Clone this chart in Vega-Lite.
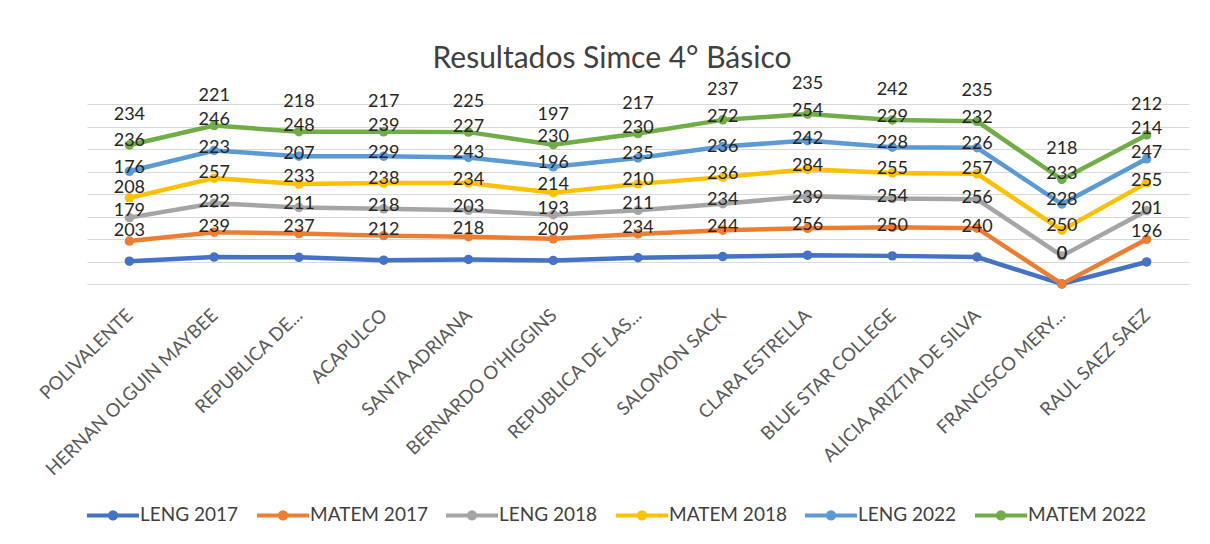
{
  "$schema": "https://vega.github.io/schema/vega-lite/v6.json",
  "autosize": "none",
  "width": 1102,
  "height": 180,
  "padding": {"left": 87, "top": 104, "right": 21, "bottom": 260},
  "background": "white",
  "config": {"font": "Lato", "view": {"stroke": null}},
  "title": {"text": "Resultados Simce 4° Básico", "fontSize": 30, "fontWeight": "normal", "color": "#404040", "anchor": "middle", "dx": -26, "offset": -23, "baseline": "alphabetic"},
  "datasets": {
    "series": [
      {"serie": "LENG 2017", "orden": 1},
      {"serie": "MATEM 2017", "orden": 2},
      {"serie": "LENG 2018", "orden": 3},
      {"serie": "MATEM 2018", "orden": 4},
      {"serie": "LENG 2022", "orden": 5},
      {"serie": "MATEM 2022", "orden": 6}
    ]
  },
  "data": {"values": [
    {"escuela": "POLIVALENTE", "serie": "LENG 2017", "valor": 203},
    {"escuela": "HERNAN OLGUIN MAYBEE", "serie": "LENG 2017", "valor": 239},
    {"escuela": "REPUBLICA DE...", "serie": "LENG 2017", "valor": 237},
    {"escuela": "ACAPULCO", "serie": "LENG 2017", "valor": 212},
    {"escuela": "SANTA ADRIANA", "serie": "LENG 2017", "valor": 218},
    {"escuela": "BERNARDO O'HIGGINS", "serie": "LENG 2017", "valor": 209},
    {"escuela": "REPUBLICA DE LAS...", "serie": "LENG 2017", "valor": 234},
    {"escuela": "SALOMON SACK", "serie": "LENG 2017", "valor": 244},
    {"escuela": "CLARA ESTRELLA", "serie": "LENG 2017", "valor": 256},
    {"escuela": "BLUE STAR  COLLEGE", "serie": "LENG 2017", "valor": 250},
    {"escuela": "ALICIA ARIZTIA DE SILVA", "serie": "LENG 2017", "valor": 240},
    {"escuela": "FRANCISCO  MERY...", "serie": "LENG 2017", "valor": 0},
    {"escuela": "RAUL SAEZ SAEZ", "serie": "LENG 2017", "valor": 196},

    {"escuela": "POLIVALENTE", "serie": "MATEM 2017", "valor": 179},
    {"escuela": "HERNAN OLGUIN MAYBEE", "serie": "MATEM 2017", "valor": 222},
    {"escuela": "REPUBLICA DE...", "serie": "MATEM 2017", "valor": 211},
    {"escuela": "ACAPULCO", "serie": "MATEM 2017", "valor": 218},
    {"escuela": "SANTA ADRIANA", "serie": "MATEM 2017", "valor": 203},
    {"escuela": "BERNARDO O'HIGGINS", "serie": "MATEM 2017", "valor": 193},
    {"escuela": "REPUBLICA DE LAS...", "serie": "MATEM 2017", "valor": 211},
    {"escuela": "SALOMON SACK", "serie": "MATEM 2017", "valor": 234},
    {"escuela": "CLARA ESTRELLA", "serie": "MATEM 2017", "valor": 239},
    {"escuela": "BLUE STAR  COLLEGE", "serie": "MATEM 2017", "valor": 254},
    {"escuela": "ALICIA ARIZTIA DE SILVA", "serie": "MATEM 2017", "valor": 256},
    {"escuela": "FRANCISCO  MERY...", "serie": "MATEM 2017", "valor": 0},
    {"escuela": "RAUL SAEZ SAEZ", "serie": "MATEM 2017", "valor": 201},

    {"escuela": "POLIVALENTE", "serie": "LENG 2018", "valor": 208},
    {"escuela": "HERNAN OLGUIN MAYBEE", "serie": "LENG 2018", "valor": 257},
    {"escuela": "REPUBLICA DE...", "serie": "LENG 2018", "valor": 233},
    {"escuela": "ACAPULCO", "serie": "LENG 2018", "valor": 238},
    {"escuela": "SANTA ADRIANA", "serie": "LENG 2018", "valor": 234},
    {"escuela": "BERNARDO O'HIGGINS", "serie": "LENG 2018", "valor": 214},
    {"escuela": "REPUBLICA DE LAS...", "serie": "LENG 2018", "valor": 210},
    {"escuela": "SALOMON SACK", "serie": "LENG 2018", "valor": 236},
    {"escuela": "CLARA ESTRELLA", "serie": "LENG 2018", "valor": 284},
    {"escuela": "BLUE STAR  COLLEGE", "serie": "LENG 2018", "valor": 255},
    {"escuela": "ALICIA ARIZTIA DE SILVA", "serie": "LENG 2018", "valor": 257},
    {"escuela": "FRANCISCO  MERY...", "serie": "LENG 2018", "valor": 250},
    {"escuela": "RAUL SAEZ SAEZ", "serie": "LENG 2018", "valor": 255},

    {"escuela": "POLIVALENTE", "serie": "MATEM 2018", "valor": 176},
    {"escuela": "HERNAN OLGUIN MAYBEE", "serie": "MATEM 2018", "valor": 223},
    {"escuela": "REPUBLICA DE...", "serie": "MATEM 2018", "valor": 207},
    {"escuela": "ACAPULCO", "serie": "MATEM 2018", "valor": 229},
    {"escuela": "SANTA ADRIANA", "serie": "MATEM 2018", "valor": 243},
    {"escuela": "BERNARDO O'HIGGINS", "serie": "MATEM 2018", "valor": 196},
    {"escuela": "REPUBLICA DE LAS...", "serie": "MATEM 2018", "valor": 235},
    {"escuela": "SALOMON SACK", "serie": "MATEM 2018", "valor": 236},
    {"escuela": "CLARA ESTRELLA", "serie": "MATEM 2018", "valor": 242},
    {"escuela": "BLUE STAR  COLLEGE", "serie": "MATEM 2018", "valor": 228},
    {"escuela": "ALICIA ARIZTIA DE SILVA", "serie": "MATEM 2018", "valor": 226},
    {"escuela": "FRANCISCO  MERY...", "serie": "MATEM 2018", "valor": 228},
    {"escuela": "RAUL SAEZ SAEZ", "serie": "MATEM 2018", "valor": 247},

    {"escuela": "POLIVALENTE", "serie": "LENG 2022", "valor": 236},
    {"escuela": "HERNAN OLGUIN MAYBEE", "serie": "LENG 2022", "valor": 246},
    {"escuela": "REPUBLICA DE...", "serie": "LENG 2022", "valor": 248},
    {"escuela": "ACAPULCO", "serie": "LENG 2022", "valor": 239},
    {"escuela": "SANTA ADRIANA", "serie": "LENG 2022", "valor": 227},
    {"escuela": "BERNARDO O'HIGGINS", "serie": "LENG 2022", "valor": 230},
    {"escuela": "REPUBLICA DE LAS...", "serie": "LENG 2022", "valor": 230},
    {"escuela": "SALOMON SACK", "serie": "LENG 2022", "valor": 272},
    {"escuela": "CLARA ESTRELLA", "serie": "LENG 2022", "valor": 254},
    {"escuela": "BLUE STAR  COLLEGE", "serie": "LENG 2022", "valor": 229},
    {"escuela": "ALICIA ARIZTIA DE SILVA", "serie": "LENG 2022", "valor": 232},
    {"escuela": "FRANCISCO  MERY...", "serie": "LENG 2022", "valor": 233},
    {"escuela": "RAUL SAEZ SAEZ", "serie": "LENG 2022", "valor": 214},

    {"escuela": "POLIVALENTE", "serie": "MATEM 2022", "valor": 234},
    {"escuela": "HERNAN OLGUIN MAYBEE", "serie": "MATEM 2022", "valor": 221},
    {"escuela": "REPUBLICA DE...", "serie": "MATEM 2022", "valor": 218},
    {"escuela": "ACAPULCO", "serie": "MATEM 2022", "valor": 217},
    {"escuela": "SANTA ADRIANA", "serie": "MATEM 2022", "valor": 225},
    {"escuela": "BERNARDO O'HIGGINS", "serie": "MATEM 2022", "valor": 197},
    {"escuela": "REPUBLICA DE LAS...", "serie": "MATEM 2022", "valor": 217},
    {"escuela": "SALOMON SACK", "serie": "MATEM 2022", "valor": 237},
    {"escuela": "CLARA ESTRELLA", "serie": "MATEM 2022", "valor": 235},
    {"escuela": "BLUE STAR  COLLEGE", "serie": "MATEM 2022", "valor": 242},
    {"escuela": "ALICIA ARIZTIA DE SILVA", "serie": "MATEM 2022", "valor": 235},
    {"escuela": "FRANCISCO  MERY...", "serie": "MATEM 2022", "valor": 218},
    {"escuela": "RAUL SAEZ SAEZ", "serie": "MATEM 2022", "valor": 212}
  ]},
  "transform": [
    {"lookup": "serie", "from": {"data": {"name": "series"}, "key": "serie", "fields": ["orden"]}}
  ],
  "encoding": {
    "x": {
      "field": "escuela", "type": "nominal", "sort": null, "title": null,
      "scale": {"type": "point", "padding": 0.5},
      "axis": {"labelAngle": -44, "labelAlign": "right", "labelBaseline": "middle", "labelPadding": 28, "ticks": false, "tickSize": 0, "grid": false, "domain": true, "domainColor": "#D9D9D9", "domainWidth": 1, "labelFontSize": 18.5, "labelColor": "#595959", "labelFont": "Lato", "labelLimit": 400}
    },
    "y": {
      "field": "valor", "type": "quantitative", "stack": "zero", "title": null,
      "scale": {"domain": [0, 1600], "nice": false},
      "axis": {"values": [0, 200, 400, 600, 800, 1000, 1200, 1400, 1600], "labels": false, "ticks": false, "domain": false, "grid": true, "gridColor": "#D9D9D9", "gridWidth": 1}
    },
    "order": {"field": "orden", "type": "quantitative"}
  },
  "layer": [
    {
      "mark": {"type": "line", "strokeWidth": 4.5, "point": {"filled": true, "size": 90}},
      "encoding": {
        "color": {
          "field": "serie", "type": "nominal", "title": null,
          "scale": {"domain": ["LENG 2017", "MATEM 2017", "LENG 2018", "MATEM 2018", "LENG 2022", "MATEM 2022"], "range": ["#4472C4", "#ED7D31", "#A5A5A5", "#FFC000", "#5B9BD5", "#70AD47"]},
          "legend": {
            "orient": "none", "direction": "horizontal", "legendX": -2, "legendY": 383,
            "symbolType": "M-1,0H1M-0.12,0A0.12,0.12,0,1,1,0.12,0A0.12,0.12,0,1,1,-0.12,0Z",
            "symbolSize": 2704, "symbolStrokeWidth": 4, "labelFontSize": 19, "labelColor": "#404040", "labelFont": "Lato", "labelOffset": -1, "columnPadding": 10, "labelLimit": 300,
            "encode": {"symbols": {"update": {"fill": {"scale": "color", "field": "value"}, "stroke": {"scale": "color", "field": "value"}}}}
          }
        }
      }
    },
    {
      "mark": {"type": "text", "dy": -30, "fontSize": 18, "color": "#262626", "font": "Lato"},
      "encoding": {
        "detail": {"field": "serie", "type": "nominal"},
        "text": {"field": "valor", "type": "quantitative"}
      }
    }
  ]
}
